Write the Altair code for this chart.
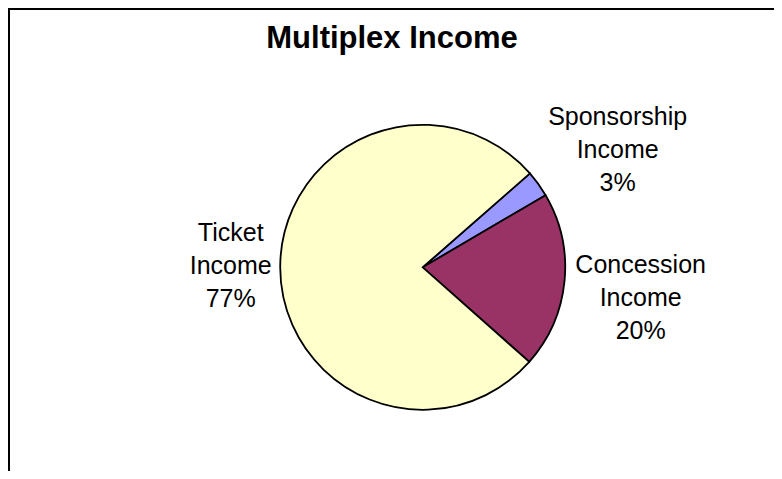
import math
import altair as alt
import pandas as pd

# ---- data ----
categories = ["Sponsorship Income", "Concession Income", "Ticket Income"]
values = [3, 20, 77]
colors = ["#9999FF", "#993366", "#FFFFCC"]
chart_title = "Multiplex Income"

df = pd.DataFrame({"category": categories, "value": values})

# ---- layout ----
W, H = 766, 463
CX, CY = 414.7, 259.3
R = 142.5
START = math.radians(48.8)
FONT = "Liberation Sans"

order_expr = "indexof(" + str(categories).replace("'", '"') + ", datum.category)"

base = (
    alt.Chart(df)
    .transform_calculate(rank=order_expr)
    .transform_window(cum="sum(value)", sort=[alt.SortField("rank")], frame=[None, 0])
    .transform_calculate(
        mid="datum.cum - datum.value / 2",
        lines="replace(datum.category, ' ', '\\n') + '\\n' + format(datum.value / 100, '.0%')",
    )
)

theta_scale = alt.Scale(range=[START, START + 2 * math.pi])

pie = base.mark_arc(stroke="black", strokeWidth=1.8, radius=R).encode(
    theta=alt.Theta("value:Q", stack=True, scale=theta_scale),
    color=alt.Color("category:N", scale=alt.Scale(domain=categories, range=colors), legend=None),
    order=alt.Order("rank:Q"),
    x=alt.value(CX),
    y=alt.value(CY),
)

label_style = {
    "Sponsorship Income": dict(radius=228, dx=10, dy=-17),
    "Concession Income": dict(radius=219, dx=0, dy=-24),
    "Ticket Income": dict(radius=192, dx=0, dy=-34),
}

labels = []
for cat in categories:
    st = label_style[cat]
    labels.append(
        base.transform_filter(alt.datum.category == cat)
        .mark_text(
            font=FONT, fontSize=25, lineHeight=33, lineBreak="\n",
            align="center", baseline="middle", color="black",
            radius=st["radius"], dx=st["dx"], dy=st["dy"],
        )
        .encode(
            theta=alt.Theta("mid:Q", stack=None, scale=theta_scale),
            text="lines:N",
            x=alt.value(CX),
            y=alt.value(CY),
        )
    )

one = pd.DataFrame({"t": [chart_title]})
title = alt.Chart(one).mark_text(
    font=FONT, fontSize=31, fontWeight="bold", align="center", baseline="alphabetic", color="black"
).encode(text="t:N", x=alt.value(384), y=alt.value(40))

top_rule = alt.Chart(one).mark_rule(color="black", strokeWidth=2).encode(
    x=alt.value(0), x2=alt.value(W), y=alt.value(1)
)
left_rule = alt.Chart(one).mark_rule(color="black", strokeWidth=2).encode(
    x=alt.value(1), y=alt.value(0), y2=alt.value(H)
)

chart = (
    alt.layer(pie, *labels, title, top_rule, left_rule)
    .properties(width=W, height=H, autosize=alt.AutoSizeParams(type="none"), padding=0)
    .configure_view(stroke=None)
)

chart.save("out.html", embed_options={"renderer": "svg", "actions": False})
